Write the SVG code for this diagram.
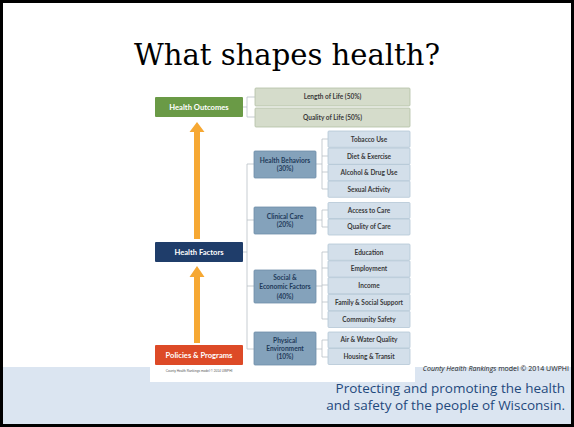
<svg xmlns="http://www.w3.org/2000/svg" width="574" height="427" viewBox="0 0 574 427">
<defs>
<style>
.mid{fill:#84a2bb;stroke:#6f8ea8;stroke-width:0.8}
.leaf{fill:#d3dfea;stroke:#b4c6d6;stroke-width:0.8}
.oleaf{fill:#d5dccb;stroke:#b3bfa4;stroke-width:0.8}
.mt{font-family:Lato,"Liberation Sans",sans-serif;font-size:6.6px;font-weight:bold;fill:#1f3a5a;text-anchor:middle}
.lt{font-family:Lato,"Liberation Sans",sans-serif;font-size:6.5px;font-weight:bold;fill:#3a3a3a;text-anchor:middle}
.bt{font-family:Lato,"Liberation Sans",sans-serif;font-size:7.6px;font-weight:bold;fill:#ffffff;text-anchor:middle}
.con{fill:none;stroke:#b9c0c6;stroke-width:0.8}
.arr{fill:#f6a833}
.foot{font-family:"Open Sans","Liberation Sans",sans-serif;font-size:13.5px;fill:#1f497d;text-anchor:end}
</style>
</defs>
<rect x="0" y="0" width="574" height="427" fill="#ffffff"/>
<rect x="3" y="367" width="568" height="57" fill="#dbe5f1"/>
<rect x="150" y="360" width="265" height="22" fill="#ffffff"/>
<text x="287" y="65" font-family="'DejaVu Serif','Liberation Serif',serif" font-size="29" fill="#000000" text-anchor="middle" textLength="306" lengthAdjust="spacingAndGlyphs">What shapes health?</text>

<g id="connectors">
<path class="con" d="M243,107 H247 M247,97 V117 M247,97 H255 M247,117 H255"/>
<path class="con" d="M243,252 H247 M247,164 V349 M247,164 H254 M247,220 H254 M247,286 H254 M247,349 H254"/>
<path class="con" d="M316,164 H322 M322,139 V189 M322,139 H328 M322,156 H328 M322,172 H328 M322,189 H328"/>
<path class="con" d="M316,220 H322 M322,210 V227 M322,210 H328 M322,227 H328"/>
<path class="con" d="M316,286 H322 M322,252 V319 M322,252 H328 M322,268 H328 M322,285 H328 M322,302 H328 M322,319 H328"/>
<path class="con" d="M316,349 H322 M322,340 V357 M322,340 H328 M322,357 H328"/>
<path class="arr" d="M194,239 V132 H189.5 L197,122 L204.5,132 H200 V239 Z"/>
<path class="arr" d="M194,343 V277 H189.5 L197,266 L204.5,277 H200 V343 Z"/>
</g>

<g id="health-outcomes"><rect x="155" y="97" width="88" height="20" rx="1" fill="#6a9a46"/><text class="bt" x="199" y="109.6">Health Outcomes</text></g>
<g id="health-factors"><rect x="155" y="242" width="88" height="20" rx="1" fill="#1f3d6a"/><text class="bt" x="199" y="254.6">Health Factors</text></g>
<g id="policies"><rect x="155" y="345" width="88" height="20" rx="1" fill="#dd4a27"/><text class="bt" x="199" y="357.6">Policies &amp; Programs</text></g>
<text x="199" y="372" font-family="'Liberation Sans',sans-serif" font-size="3.2" fill="#555" text-anchor="middle">County Health Rankings model © 2014 UWPHI</text>

<g id="length-of-life"><rect class="oleaf" x="255" y="88" width="155" height="18" rx="1"/><text class="lt" x="332.5" y="99.3">Length of Life (50%)</text></g>
<g id="quality-of-life"><rect class="oleaf" x="255" y="108" width="155" height="19" rx="1"/><text class="lt" x="332.5" y="119.8">Quality of Life (50%)</text></g>

<g id="health-behaviors"><rect class="mid" x="254" y="151" width="62" height="27" rx="1"/><text class="mt" x="285" y="162.5">Health Behaviors</text><text class="mt" x="285" y="170.5">(30%)</text></g>
<g id="clinical-care"><rect class="mid" x="254" y="207" width="62" height="27" rx="1"/><text class="mt" x="285" y="218.5">Clinical Care</text><text class="mt" x="285" y="226.5">(20%)</text></g>
<g id="social-economic"><rect class="mid" x="254" y="270" width="62" height="33" rx="1"/><text class="mt" x="285" y="279.5">Social &amp;</text><text class="mt" x="285" y="289">Economic Factors</text><text class="mt" x="285" y="298.5">(40%)</text></g>
<g id="physical-environment"><rect class="mid" x="254" y="332" width="62" height="33" rx="1"/><text class="mt" x="285" y="342.5">Physical</text><text class="mt" x="285" y="350.5">Environment</text><text class="mt" x="285" y="358.5">(10%)</text></g>

<g id="tobacco"><rect class="leaf" x="328" y="131" width="82" height="16.3" rx="1"/><text class="lt" x="369" y="141.5">Tobacco Use</text></g>
<g id="diet"><rect class="leaf" x="328" y="148" width="82" height="16.3" rx="1"/><text class="lt" x="369" y="158.5">Diet &amp; Exercise</text></g>
<g id="alcohol"><rect class="leaf" x="328" y="164.5" width="82" height="16.3" rx="1"/><text class="lt" x="369" y="175">Alcohol &amp; Drug Use</text></g>
<g id="sexual"><rect class="leaf" x="328" y="181" width="82" height="16.3" rx="1"/><text class="lt" x="369" y="191.5">Sexual Activity</text></g>

<g id="access"><rect class="leaf" x="328" y="202.5" width="82" height="16" rx="1"/><text class="lt" x="369" y="212.8">Access to Care</text></g>
<g id="quality-care"><rect class="leaf" x="328" y="219" width="82" height="16" rx="1"/><text class="lt" x="369" y="229.3">Quality of Care</text></g>

<g id="education"><rect class="leaf" x="328" y="244" width="82" height="16.3" rx="1"/><text class="lt" x="369" y="254.5">Education</text></g>
<g id="employment"><rect class="leaf" x="328" y="260.8" width="82" height="16.3" rx="1"/><text class="lt" x="369" y="271.3">Employment</text></g>
<g id="income"><rect class="leaf" x="328" y="277.6" width="82" height="16.3" rx="1"/><text class="lt" x="369" y="288.1">Income</text></g>
<g id="family"><rect class="leaf" x="328" y="294.4" width="82" height="16.3" rx="1"/><text class="lt" x="369" y="304.9">Family &amp; Social Support</text></g>
<g id="community"><rect class="leaf" x="328" y="311.2" width="82" height="16.3" rx="1"/><text class="lt" x="369" y="321.7">Community Safety</text></g>

<g id="air-water"><rect class="leaf" x="328" y="332" width="82" height="16" rx="1"/><text class="lt" x="369" y="342.3">Air &amp; Water Quality</text></g>
<g id="housing"><rect class="leaf" x="328" y="348.5" width="82" height="16" rx="1"/><text class="lt" x="369" y="358.8">Housing &amp; Transit</text></g>

<text x="569" y="371" font-family="'Open Sans','Liberation Sans',sans-serif" font-size="7" fill="#222" text-anchor="end"><tspan font-style="italic">County Health Rankings</tspan> model © 2014 UWPHI</text>
<text class="foot" x="565" y="393">Protecting and promoting the health</text>
<text class="foot" x="565" y="410">and safety of the people of Wisconsin.</text>
<rect x="1.5" y="1.5" width="571" height="424" fill="none" stroke="#000000" stroke-width="3"/>
</svg>
